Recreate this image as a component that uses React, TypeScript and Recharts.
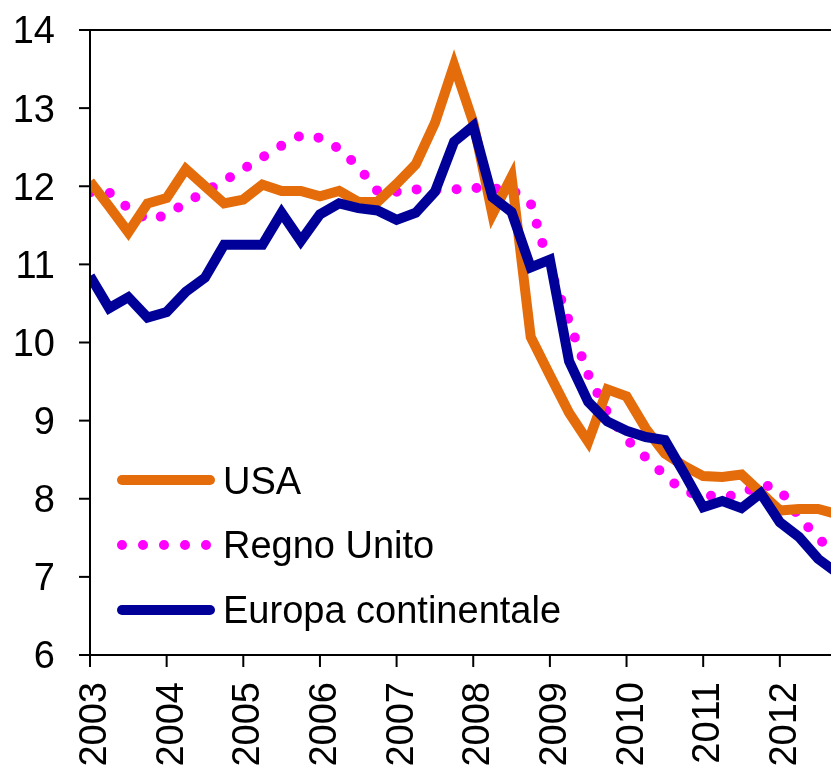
import React from 'react';
import { LineChart, Line, XAxis, YAxis, Legend, ReferenceLine } from 'recharts';

// Quarterly observations, 2003 T1 ... 2012 T4
const years = ['2003', '2004', '2005', '2006', '2007', '2008', '2009', '2010', '2011', '2012'];
const quarterLabels: string[] = years.flatMap((y) => ['T1', 'T2', 'T3', 'T4'].map((q) => `${y} ${q}`));
const yearTicks = [0, 4, 8, 12, 16, 20, 24, 28, 32, 36];
const yTicks = [6, 7, 8, 9, 10, 11, 12, 13, 14];

const usa = [
  12.06, 11.74, 11.41, 11.78, 11.85, 12.22, 12.0, 11.78, 11.83, 12.02,
  11.94, 11.94, 11.87, 11.94, 11.8, 11.8, 12.03, 12.28, 12.81, 13.55,
  12.82, 11.64, 12.12, 10.07, 9.58, 9.1, 8.73, 9.4, 9.31, 8.9,
  8.58, 8.42, 8.29, 8.28, 8.31, 8.08, 7.85, 7.87, 7.87, 7.8,
];
const regnoUnito = [
  11.92, 11.92, 11.72, 11.57, 11.63, 11.79, 11.93, 12.07, 12.22, 12.37,
  12.52, 12.65, 12.62, 12.48, 12.25, 11.94, 11.93, 11.96, 11.95, 11.96,
  11.98, 11.97, 11.96, 11.78, 10.95, 10.27, 9.59, 9.1, 8.76, 8.53,
  8.3, 8.09, 8.05, 8.02, 8.06, 8.19, 8.12, 7.77, 7.49, 7.3,
];
const europaContinentale = [
  10.85, 10.44, 10.58, 10.32, 10.39, 10.65, 10.83, 11.25, 11.25, 11.25,
  11.66, 11.3, 11.64, 11.78, 11.72, 11.69, 11.57, 11.66, 11.93, 12.57,
  12.77, 11.86, 11.67, 10.96, 11.06, 9.76, 9.24, 8.99, 8.87, 8.79,
  8.75, 8.33, 7.89, 7.97, 7.88, 8.07, 7.7, 7.51, 7.23, 7.05,
];

const data = quarterLabels.map((q, i) => ({
  q,
  t: i,
  usa: usa[i],
  uk: regnoUnito[i],
  eu: europaContinentale[i],
}));

const FONT = "'Liberation Sans', Arial, sans-serif";

const SERIES = [
  { key: 'usa', name: 'USA', color: '#E46C0A', dotted: false },
  { key: 'uk', name: 'Regno Unito', color: '#FF00FF', dotted: true },
  { key: 'eu', name: 'Europa continentale', color: '#000099', dotted: false },
];

const XTick = (props: any) => {
  const { x, y, payload } = props;
  const label = years[Math.round(payload.value / 4)];
  return (
    <text
      x={x}
      y={y}
      transform={`rotate(-90, ${x}, ${y})`}
      textAnchor="end"
      dy={16}
      fontSize={38}
      fontFamily={FONT}
      fill="#000"
    >
      {label}
    </text>
  );
};

const LegendBox = () => (
  <svg width={480} height={200} style={{ display: 'block', overflow: 'visible' }}>
    {SERIES.map((s, i) => {
      const cy = 20 + i * 65;
      return (
        <g key={s.key}>
          <line
            x1={5}
            x2={93}
            y1={cy}
            y2={cy}
            stroke={s.color}
            strokeWidth={10}
            strokeLinecap="round"
            strokeDasharray={s.dotted ? '0 21' : undefined}
          />
          <text x={106} y={cy} dy="0.355em" fontSize={38} fontFamily={FONT} fill="#000">
            {s.name}
          </text>
        </g>
      );
    })}
  </svg>
);

export default function App() {
  return (
    <div style={{ position: 'fixed', left: 8, top: 8, width: 823, height: 759, overflow: 'hidden' }}>
      <LineChart
        width={823}
        height={759}
        data={data}
        margin={{ top: 22, right: 0, left: 0, bottom: 0 }}
      >
        <XAxis
          dataKey="t"
          type="number"
          domain={[0, 38.67]}
          allowDataOverflow
          ticks={yearTicks}
          tick={<XTick />}
          tickSize={12}
          tickMargin={15}
          height={112}
          interval={0}
          axisLine={{ stroke: '#000', strokeWidth: 2 }}
          tickLine={{ stroke: '#000', strokeWidth: 2 }}
        />
        <YAxis
          type="number"
          domain={[6, 14]}
          ticks={yTicks}
          width={82}
          tickSize={11}
          tickMargin={24}
          interval={0}
          axisLine={{ stroke: '#000', strokeWidth: 2 }}
          tickLine={{ stroke: '#000', strokeWidth: 2 }}
          tick={{ fontSize: 38, fontFamily: FONT, fill: '#000' }}
        />
        <ReferenceLine y={14} stroke="#000" strokeWidth={2} />
        <Legend
          layout="horizontal"
          verticalAlign="middle"
          align="center"
          content={() => <LegendBox />}
          wrapperStyle={{ position: 'absolute', left: 109, top: 452, width: 480, height: 200 }}
        />
        <Line
          type="linear"
          dataKey="uk"
          name="Regno Unito"
          stroke="#FF00FF"
          strokeWidth={10}
          strokeDasharray="0 20"
          strokeLinecap="round"
          dot={false}
          activeDot={false}
          isAnimationActive={false}
        />
        <Line
          type="linear"
          dataKey="usa"
          name="USA"
          stroke="#E46C0A"
          strokeWidth={10}
          dot={false}
          activeDot={false}
          isAnimationActive={false}
        />
        <Line
          type="linear"
          dataKey="eu"
          name="Europa continentale"
          stroke="#000099"
          strokeWidth={10}
          dot={false}
          activeDot={false}
          isAnimationActive={false}
        />
      </LineChart>
    </div>
  );
}
